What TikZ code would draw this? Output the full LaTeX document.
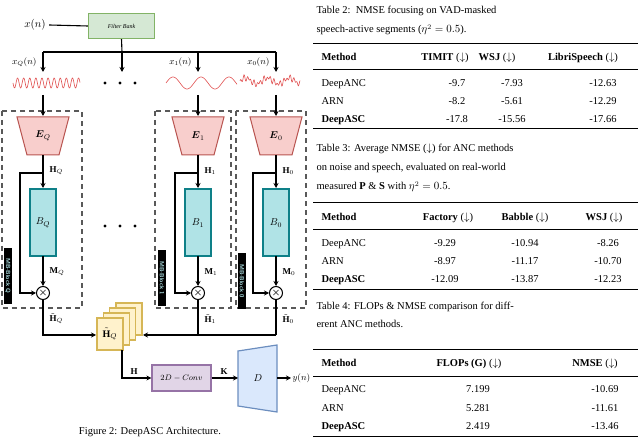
\documentclass[tikz,border=0pt]{standalone}
\usepackage{amsmath,amssymb}
\usepackage{fontspec}
\setmainfont{Liberation Serif}
\usetikzlibrary{arrows.meta}
\definecolor{gF}{HTML}{D5E8D4}\definecolor{gD}{HTML}{82B366}
\definecolor{rF}{HTML}{F8CECC}\definecolor{rD}{HTML}{B85450}
\definecolor{tF}{HTML}{B0E3E6}\definecolor{tD}{HTML}{0E8088}
\definecolor{yF}{HTML}{FFF2CC}\definecolor{yD}{HTML}{D6B656}
\definecolor{pF}{HTML}{E1D5E7}\definecolor{pD}{HTML}{9673A6}
\definecolor{bF}{HTML}{DAE8FC}\definecolor{bD}{HTML}{6C8EBF}
\definecolor{wv}{HTML}{E05050}
\tikzset{
 ar/.style={line width=1.1pt,-{Stealth[length=5pt,width=5pt]}},
 ln/.style={line width=1.1pt},
 dbox/.style={dashed,gray!70!black,line width=1.1pt,dash pattern=on 5pt off 4pt},
 enc/.style={fill=rF,draw=rD,line width=1pt},
 bb/.style={fill=tF,draw=tD,line width=1.2pt},
 mb/.style={fill=black,text=tF,font=\sffamily\bfseries\fontsize{6}{7}\selectfont,rotate=-90,inner sep=1.5pt,minimum width=56pt},
 lbl/.style={font=\fontsize{9}{10}\selectfont},
 tt/.style={font=\fontsize{10.5}{12}\selectfont},
 tc/.style={font=\fontsize{10.5}{12}\selectfont,anchor=base west},
 wave/.style={wv,line width=0.6pt},
}
\begin{document}
\begin{tikzpicture}[x=1pt,y=-1pt]
\useasboundingbox (0,0) rectangle (640,443);
% input
\node[lbl,font=\fontsize{11}{12}\selectfont] (xn) at (35,25) {$x(n)$};
\node[fill=gF,draw=gD,line width=1.2pt,minimum width=66pt,minimum height=25pt,inner sep=0pt,font=\fontsize{6}{7}\selectfont\itshape] (fb) at (121.5,26) {Filter Bank};
\draw[ln] (xn.east) -- (fb.west);
\coordinate (bus) at (122,52);
\draw[ln] (fb.south) -- (bus);
\draw[ln] (43,52) -- (276,52);
\foreach \x in {43,122,198,276}{\draw[ar] (\x,52) -- (\x,72);}
\node[lbl,anchor=east] at (40,62) {$x_Q(n)$};
\node[lbl,anchor=east] at (195,62) {$x_1(n)$};
\node[lbl,anchor=east] at (273,62) {$x_0(n)$};
% waves
\draw[wave,domain=13:80,samples=200] plot (\x,{83+5*sin((\x-13)/6.1*360)});
\draw[wave,domain=166:237,samples=150] plot (\x,{83-6*sin((\x-166)/28*360)});
\draw[wave,domain=240:300,samples=150] plot (\x,{81-3*sin((\x-240)/22*360)-2*sin((\x-240)/3.3*360)+1.5*sin((\x-240)/5.1*360)});
\foreach \x in {105,120,135}{\fill (\x,83) circle (1.6);\fill (\x,226) circle (1.6);}
% dashed boxes
\draw[dbox] (2,111) rectangle (82,308);
\draw[dbox] (155,111) rectangle (231,308);
\draw[dbox] (236,111) rectangle (306,308);
% blocks
\foreach \x/\s/\n in {43/Q/Q,198/1/1,276/0/0}{
 \draw[ar] (\x,95) -- (\x,116);
 \draw[enc] (\x-26,117) -- (\x+26,117) -- (\x+16,155) -- (\x-16,155) -- cycle;
 \node (E\n) at (\x,136) {$\boldsymbol{E}_{\s}$};
 \draw[bb] (\x-13,189) rectangle (\x+13,256);
 \node (B\n) at (\x,223) {$B_{\s}$};
 \draw[ar] (\x,155) -- (\x,188);
 \node[lbl,anchor=west] at (\x+3,171) {$\mathbf{H}_{\s}$};
 \draw[ar] (\x,173) -- (\x-23,173) -- (\x-23,293) -- (\x-7,293);
 \draw[ar] (\x,256) -- (\x,286);
 \node[lbl,anchor=west] at (\x+3,272) {$\mathbf{M}_{\s}$};
 \draw[line width=1pt,fill=white] (\x,293) circle (6.5);
 \node[inner sep=0pt] (o\n) at (\x,293) {$\boldsymbol\times$};
 \node[lbl,anchor=west] at (\x+3,319) {$\tilde{\mathbf{H}}_{\s}$};
}
\node[mb] at (8,276) {MB-Block Q};
\node[mb] at (162,278) {MB-Block 1};
\node[mb] at (242,281) {MB-Block 0};
% stack
\foreach \i in {3,2,1,0}{\draw[fill=yF,draw=yD,line width=1.2pt] (97+6.3*\i,318-5*\i) rectangle ++(26,32);}
\node (st) at (110,334) {$\tilde{\mathbf{H}}_Q$};
\draw[ar] (43,300) -- (43,335) -- (96,335);
\draw[ln] (276,300) -- (276,335);
\draw[ln] (198,300) -- (198,335);
\draw[ar] (276,335) -- (143,335);
% conv
\node[fill=pF,draw=pD,line width=1.2pt,minimum width=59pt,minimum height=26pt,inner sep=0pt,font=\fontsize{8}{9}\selectfont] (cv) at (181.5,378) {$2D-Conv$};
\draw[ar] (122,350) -- (122,378) -- (cv.west);
\node[lbl,anchor=south] at (134,378) {$\mathbf{H}$};
\draw[fill=bF,draw=bD,line width=1.2pt] (238,351) -- (277,345) -- (277,412) -- (238,406) -- cycle;
\node (D) at (258,378) {$D$};
\draw[ar] (cv.east) -- (238,378);
\node[lbl,anchor=south] at (224,378) {$\mathbf{K}$};
\draw[ar] (277,378) -- (291,378);
\node[lbl,anchor=west] at (289,378) {$y(n)$};
\node[font=\fontsize{10.5}{12}\selectfont] at (150,432) {Figure 2: DeepASC Architecture.};
% Table 2
\node[tc] at (313,14) {Table 2:\ \ NMSE focusing on VAD-masked};
\node[tc] at (313,33) {speech-active segments ($\eta^2=0.5$).};
\draw[line width=1pt] (313,44) -- (638,44);
\node[tc] at (318,61) {\textbf{Method}};
\node[tt,anchor=base] at (445,61) {\textbf{TIMIT} ($\downarrow$)};
\node[tt,anchor=base] at (497,61) {\textbf{WSJ} ($\downarrow$)};
\node[tt,anchor=base] at (583,61) {\textbf{LibriSpeech} ($\downarrow$)};
\draw[line width=0.5pt] (313,69) -- (638,69);
\foreach \m/\a/\b/\c/\y in {DeepANC/-9.7/-7.93/-12.63/87,ARN/-8.2/-5.61/-12.29/105,\textbf{DeepASC}/-17.8/-15.56/-17.66/123}{
 \node[tc] at (318,\y) {\m};
 \node[tt,anchor=base] at (457,\y) {\a};
 \node[tt,anchor=base] at (512,\y) {\b};
 \node[tt,anchor=base] at (603,\y) {\c};}
\draw[line width=1pt] (313,129) -- (638,129);
% Table 3
\node[tc] at (313,152) {Table 3: Average NMSE ($\downarrow$) for ANC methods};
\node[tc] at (313,171) {on noise and speech, evaluated on real-world};
\node[tc] at (313,190) {measured \textbf{P} \& \textbf{S} with $\eta^2=0.5$.};
\draw[line width=1pt] (313,203) -- (638,203);
\node[tc] at (318,221) {\textbf{Method}};
\node[tt,anchor=base] at (448,221) {\textbf{Factory} ($\downarrow$)};
\node[tt,anchor=base] at (525,221) {\textbf{Babble} ($\downarrow$)};
\node[tt,anchor=base] at (604,221) {\textbf{WSJ} ($\downarrow$)};
\draw[line width=0.5pt] (313,229) -- (638,229);
\foreach \m/\a/\b/\c/\y in {DeepANC/-9.29/-10.94/-8.26/247,ARN/-8.97/-11.17/-10.70/265,\textbf{DeepASC}/-12.09/-13.87/-12.23/283}{
 \node[tc] at (318,\y) {\m};
 \node[tt,anchor=base] at (445,\y) {\a};
 \node[tt,anchor=base] at (525,\y) {\b};
 \node[tt,anchor=base] at (608,\y) {\c};}
\draw[line width=1pt] (313,290) -- (638,290);
% Table 4
\node[tc] at (313,310) {Table 4: FLOPs \& NMSE comparison for diff-};
\node[tc] at (313,328) {erent ANC methods.};
\draw[line width=1pt] (313,350) -- (638,350);
\node[tc] at (318,367) {\textbf{Method}};
\node[tt,anchor=base] at (469,367) {\textbf{FLOPs (G)} ($\downarrow$)};
\node[tt,anchor=base] at (595,367) {\textbf{NMSE} ($\downarrow$)};
\draw[line width=0.5pt] (313,376) -- (638,376);
\foreach \m/\a/\b/\y in {DeepANC/7.199/-10.69/393,ARN/5.281/-11.61/412,\textbf{DeepASC}/2.419/-13.46/430}{
 \node[tc] at (318,\y) {\m};
 \node[tt,anchor=base] at (478,\y) {\a};
 \node[tt,anchor=base] at (605,\y) {\b};}
\draw[line width=1pt] (313,437) -- (638,437);
\end{tikzpicture}
\end{document}
